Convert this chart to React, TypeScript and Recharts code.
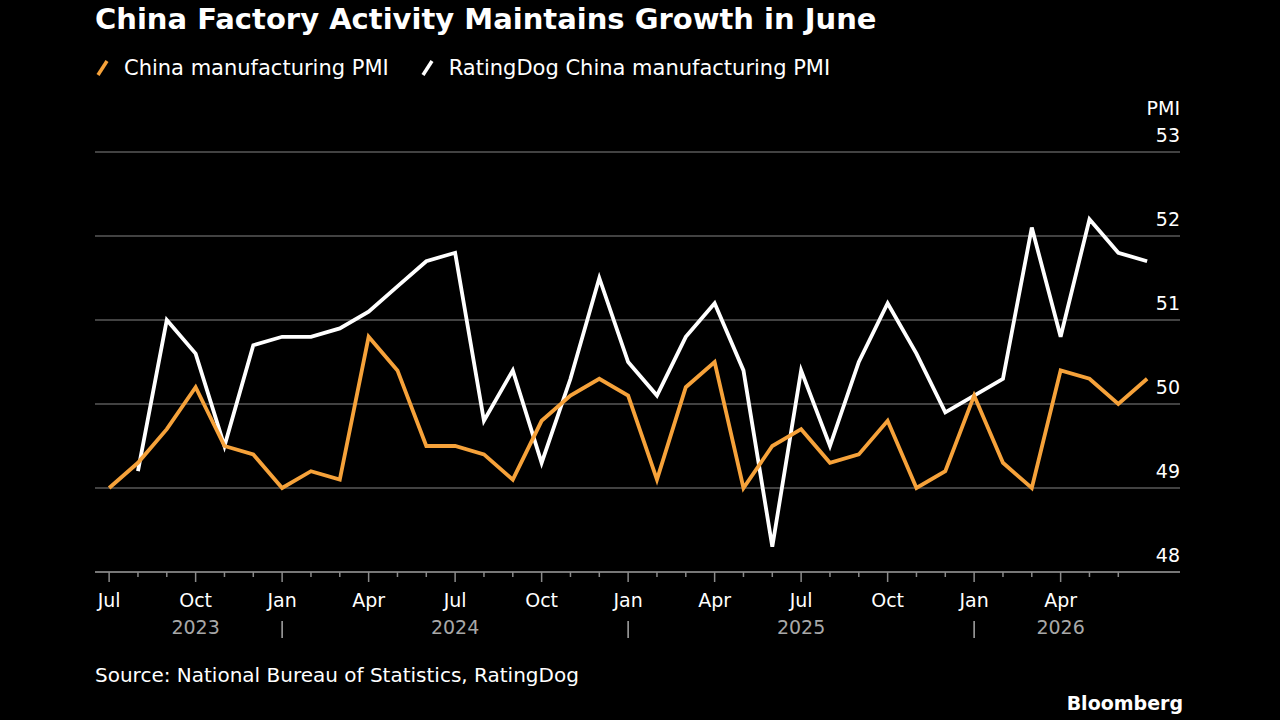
import { LineChart, Line, XAxis, YAxis, CartesianGrid } from 'recharts'

// months since Jul 2023 (tick 0 = Jul 2023), points plotted at month end
const MONTH_NAMES = ['Jan', 'Feb', 'Mar', 'Apr', 'May', 'Jun', 'Jul', 'Aug', 'Sep', 'Oct', 'Nov', 'Dec']
const TICK_IDX = Array.from({ length: 36 }, (_, i) => i)
const YEAR_LABELS = ['2023', '2024', '2025', '2026']
const YEAR_AT = [3, 12, 24, 33]
const YEAR_SEPARATORS = [6, 18, 30]
const PMI_TICKS = [48, 49, 50, 51, 52, 53]

const NBS_PMI = [
  49.0, 49.3, 49.7, 50.2, 49.5, 49.4, 49.0, 49.2, 49.1, 50.8, 50.4, 49.5,
  49.5, 49.4, 49.1, 49.8, 50.1, 50.3, 50.1, 49.1, 50.2, 50.5, 49.0, 49.5,
  49.7, 49.3, 49.4, 49.8, 49.0, 49.2, 50.1, 49.3, 49.0, 50.4, 50.3, 50.0, 50.3,
]
const RATINGDOG_PMI = [
  null, 49.2, 51.0, 50.6, 49.5, 50.7, 50.8, 50.8, 50.9, 51.1, 51.4, 51.7,
  51.8, 49.8, 50.4, 49.3, 50.3, 51.5, 50.5, 50.1, 50.8, 51.2, 50.4, 48.3,
  50.4, 49.5, 50.5, 51.2, 50.6, 49.9, 50.1, 50.3, 52.1, 50.8, 52.2, 51.8, 51.7,
]

const data = NBS_PMI.map((v, i) => ({ i, nbs: v, rd: RATINGDOG_PMI[i] }))

const ORANGE = '#F6A23A'
const GRID = '#585858'
const AXIS = '#8a8a8a'
const FONT = '"DejaVu Sans", sans-serif'

function MonthTick({ x, y, payload }: any) {
  const i = payload.value as number
  const major = i % 3 === 0
  const yearPos = YEAR_AT.indexOf(i)
  return (
    <g>
      <line x1={x} x2={x} y1={y} y2={y + (major ? 10 : 5)} stroke={AXIS} strokeWidth={1.5} />
      {major && (
        <text x={x} y={y + 35} textAnchor="middle" fill="#fff" fontSize={19} fontFamily={FONT}>
          {MONTH_NAMES[(i + 6) % 12]}
        </text>
      )}
      {yearPos >= 0 && (
        <text x={x} y={y + 62} textAnchor="middle" fill="#a8a8a8" fontSize={19} fontFamily={FONT}>
          {YEAR_LABELS[yearPos]}
        </text>
      )}
      {YEAR_SEPARATORS.includes(i) && (
        <line x1={x} x2={x} y1={y + 49} y2={y + 66} stroke="#a8a8a8" strokeWidth={1.5} />
      )}
    </g>
  )
}

function PmiTick({ x, y, payload }: any) {
  return (
    <g>
      <text x={x} y={y - 10} textAnchor="end" fill="#fff" fontSize={19} fontFamily={FONT}>
        {payload.value}
      </text>
      {payload.value === 53 && (
        <text x={x} y={y - 37} textAnchor="end" fill="#fff" fontSize={19} fontFamily={FONT}>
          PMI
        </text>
      )}
    </g>
  )
}

function LegendMark({ color }: { color: string }) {
  return (
    <svg width={18} height={20} style={{ marginRight: 12 }}>
      <line x1={4} y1={17} x2={13} y2={3} stroke={color} strokeWidth={3.5} />
    </svg>
  )
}

export default function App() {
  return (
    <div
      style={{
        position: 'absolute', left: 0, top: 0, width: 1280, height: 720,
        background: '#000', overflow: 'hidden', fontFamily: FONT, color: '#fff',
      }}
    >
      <div style={{ position: 'absolute', left: 95, top: 2, fontSize: 29, fontWeight: 700, whiteSpace: 'nowrap' }}>
        China Factory Activity Maintains Growth in June
      </div>

      <div style={{ position: 'absolute', left: 94, top: 56, display: 'flex', alignItems: 'center', fontSize: 21, whiteSpace: 'nowrap' }}>
        <LegendMark color={ORANGE} />
        <span>China manufacturing PMI</span>
        <span style={{ width: 30 }} />
        <LegendMark color="#fff" />
        <span>RatingDog China manufacturing PMI</span>
      </div>

      <div style={{ position: 'absolute', left: 0, top: 0 }}>
        <LineChart
          width={1280}
          height={720}
          data={data}
          margin={{ top: 152, right: 99, bottom: 147, left: 95 }}
        >
          <CartesianGrid vertical={false} stroke={GRID} strokeWidth={1.5} />
          <XAxis
            dataKey="i"
            type="number"
            domain={[-0.49, 37.14]}
            ticks={TICK_IDX}
            height={1}
            tickSize={0}
            tickMargin={0}
            tickLine={false}
            axisLine={{ stroke: AXIS, strokeWidth: 1.5 }}
            tick={MonthTick}
            interval={0}
          />
          <YAxis
            orientation="right"
            domain={[48, 53]}
            ticks={PMI_TICKS}
            width={1}
            tickSize={0}
            tickMargin={0}
            axisLine={false}
            tickLine={false}
            tick={PmiTick}
            interval={0}
          />
          <Line dataKey="rd" stroke="#ffffff" strokeWidth={3.8} dot={false} isAnimationActive={false} connectNulls={false} />
          <Line dataKey="nbs" stroke={ORANGE} strokeWidth={3.8} dot={false} isAnimationActive={false} />
        </LineChart>
      </div>

      <div style={{ position: 'absolute', left: 95, top: 663, fontSize: 20, whiteSpace: 'nowrap' }}>
        Source: National Bureau of Statistics, RatingDog
      </div>
      <div style={{ position: 'absolute', right: 97, top: 692, fontSize: 19, fontWeight: 700 }}>
        Bloomberg
      </div>
    </div>
  )
}
